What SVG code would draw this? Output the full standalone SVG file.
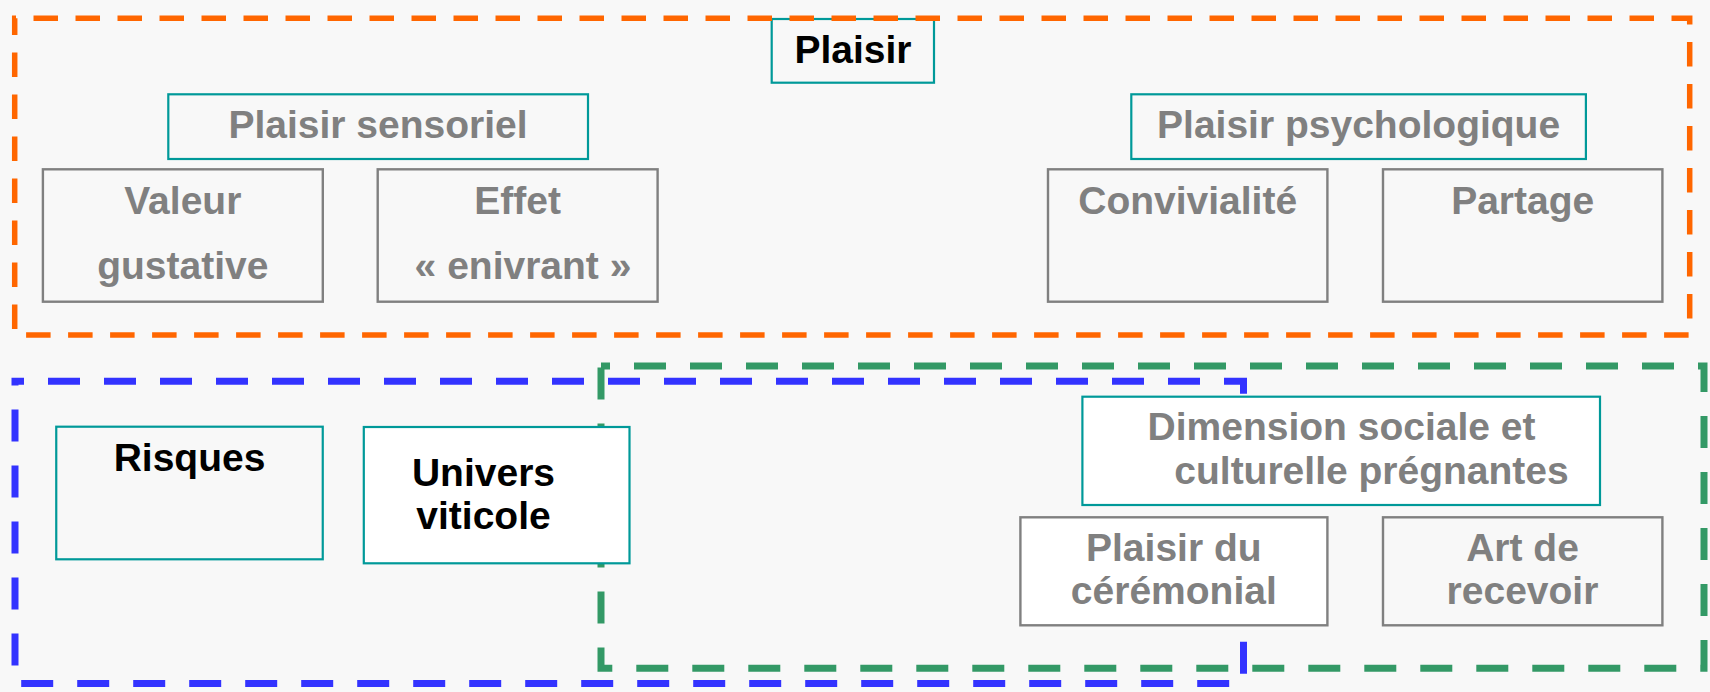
<svg xmlns="http://www.w3.org/2000/svg" width="1710" height="692" viewBox="0 0 1710 692">
<style>
  .t { font-family: "Liberation Sans", Arial, sans-serif; font-weight: bold; font-size: 39px; text-anchor: middle; }
  .g { fill: #808080; }
  .k { fill: #000000; }
  .teal { stroke: #009999; stroke-width: 2.2; }
  .gray { stroke: #808080; stroke-width: 2.4; }
  .bg { fill: #f8f8f8; }
  .wh { fill: #ffffff; }
  .frame { fill: none; }
</style>
<rect x="0" y="0" width="1710" height="692" fill="#f8f8f8"/>

<g id="plaisir">
  <rect class="bg teal" x="771.7" y="19" width="162.3" height="63.7"/>
  <text class="t k" x="853" y="63.3">Plaisir</text>
</g>

<g id="frames">
  <rect id="frame-plaisir" class="frame" x="14.7" y="18.3" width="1675" height="316.7" stroke="#ff6600" stroke-width="5.5" stroke-dasharray="24.5 17.5" stroke-dashoffset="23.2"/>
</g>

<g id="plaisir-sensoriel">
  <rect class="bg teal" x="168.3" y="94.3" width="419.7" height="64.7"/>
  <text class="t g" x="378" y="137.5">Plaisir sensoriel</text>
</g>
<g id="valeur-gustative">
  <rect class="bg gray" x="42.9" y="169.3" width="279.9" height="132.4"/>
  <text class="t g" x="182.8" y="214">Valeur</text>
  <text class="t g" x="182.8" y="279">gustative</text>
</g>
<g id="effet-enivrant">
  <rect class="bg gray" x="377.7" y="169.3" width="279.9" height="132.4"/>
  <text class="t g" x="517.6" y="214">Effet</text>
  <text class="t g" x="523" y="279">« enivrant »</text>
</g>
<g id="plaisir-psychologique">
  <rect class="bg teal" x="1131.3" y="94.3" width="454.6" height="64.7"/>
  <text class="t g" x="1358.6" y="137.5">Plaisir psychologique</text>
</g>
<g id="convivialite">
  <rect class="bg gray" x="1048" y="169.3" width="279.4" height="132.4"/>
  <text class="t g" x="1187.7" y="214">Convivialité</text>
</g>
<g id="partage">
  <rect class="bg gray" x="1383" y="169.3" width="279.4" height="132.4"/>
  <text class="t g" x="1522.7" y="214">Partage</text>
</g>

<g id="frames-bottom">
  <rect id="frame-risques" class="frame" x="15" y="381.2" width="1228.5" height="302.2" stroke="#3333ff" stroke-width="7" stroke-dasharray="32 24" stroke-dashoffset="23"/>
  <rect id="frame-social" class="frame" x="601" y="366" width="1103" height="302.3" stroke="#339966" stroke-width="7" stroke-dasharray="32 24" stroke-dashoffset="23"/>
</g>

<g id="connectors"></g>

<g id="risques">
  <rect class="bg teal" x="56.25" y="426.7" width="266.5" height="132.6"/>
  <text class="t k" x="189.5" y="470.5">Risques</text>
</g>
<g id="univers-viticole">
  <rect class="wh teal" x="363.8" y="427" width="265.7" height="136.3"/>
  <text class="t k" x="483.5" y="486">Univers</text>
  <text class="t k" x="483.5" y="528.5">viticole</text>
</g>
<g id="dimension-sociale">
  <rect class="wh teal" x="1082.4" y="396.7" width="517.6" height="108.3"/>
  <text class="t g" x="1341.5" y="439.5">Dimension sociale et</text>
  <text class="t g" x="1371.5" y="483.5">culturelle prégnantes</text>
</g>
<g id="plaisir-ceremonial">
  <rect class="wh gray" x="1020.4" y="517.3" width="307" height="108"/>
  <text class="t g" x="1173.8" y="560.5">Plaisir du</text>
  <text class="t g" x="1173.8" y="603.5">cérémonial</text>
</g>
<g id="art-de-recevoir">
  <rect class="bg gray" x="1383" y="517.3" width="279.4" height="108"/>
  <text class="t g" x="1522.5" y="560.5">Art de</text>
  <text class="t g" x="1522.5" y="603.5">recevoir</text>
</g>
</svg>
